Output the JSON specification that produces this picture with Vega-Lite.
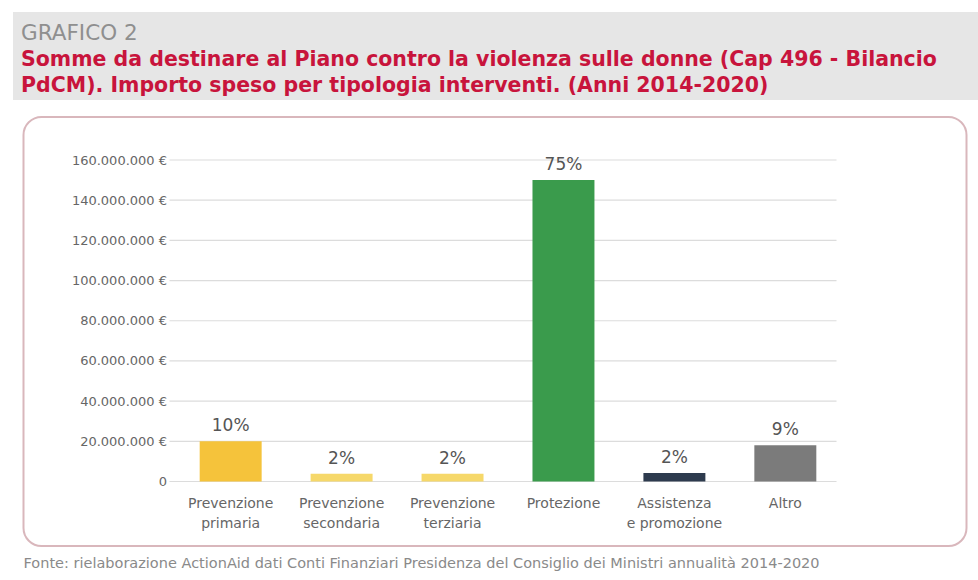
{
  "$schema": "https://vega.github.io/schema/vega-lite/v6.json",
  "background": "white",
  "padding": {"left": 13, "top": 12, "right": 0, "bottom": 0},
  "spacing": 16,
  "center": true,
  "config": {
    "view": {"stroke": null},
    "font": "DejaVu Sans",
    "locale": {"number": {"decimal": ",", "thousands": ".", "grouping": [3], "currency": ["", " €"]}}
  },
  "vconcat": [
    {
      "width": 965,
      "height": 88,
      "view": {"stroke": null},
      "data": {"values": [{}]},
      "mark": {"type": "rect", "color": "#e6e6e6"},
      "encoding": {},
      "title": {
        "text": "GRAFICO 2",
        "subtitle": [
          "Somme da destinare al Piano contro la violenza sulle donne (Cap 496 - Bilancio",
          "PdCM). Importo speso per tipologia interventi. (Anni 2014-2020)"
        ],
        "anchor": "start",
        "frame": "group",
        "dx": 8,
        "offset": -84,
        "font": "DejaVu Sans",
        "fontSize": 21.5,
        "fontWeight": "normal",
        "color": "#8f8f8f",
        "subtitleFont": "DejaVu Sans",
        "subtitleFontSize": 20.5,
        "subtitleFontWeight": "bold",
        "subtitleColor": "#c8143c",
        "subtitleLineHeight": 26,
        "subtitlePadding": 5
      }
    },
    {
      "width": 943,
      "height": 429,
      "view": {"stroke": "#d9b7bc", "strokeWidth": 2, "cornerRadius": 18, "fill": "white"},
      "title": {
        "text": "Fonte: rielaborazione ActionAid dati Conti Finanziari Presidenza del Consiglio dei Ministri annualità 2014-2020",
        "orient": "bottom",
        "anchor": "start",
        "frame": "group",
        "offset": 11,
        "font": "DejaVu Sans",
        "fontSize": 14.5,
        "fontWeight": "normal",
        "color": "#8a8a8a"
      },
      "encoding": {
        "y": {
          "field": "v",
          "type": "quantitative",
          "scale": {"domain": [0, 160000000], "range": [364.5, 43], "nice": false, "zero": true},
          "axis": {
            "orient": "left",
            "offset": -143,
            "values": [0, 20000000, 40000000, 60000000, 80000000, 100000000, 120000000, 140000000, 160000000],
            "format": ",.0f",
            "labelExpr": "datum.value == 0 ? '0' : datum.label + ' €'",
            "grid": false,
            "ticks": false,
            "tickSize": 0,
            "domain": false,
            "labelPadding": 0,
            "labelFont": "DejaVu Sans",
            "labelFontSize": 13,
            "labelColor": "#666666",
            "title": null
          }
        }
      },
      "layer": [
        {
          "data": {"values": [{"v": 0}, {"v": 20000000}, {"v": 40000000}, {"v": 60000000}, {"v": 80000000}, {"v": 100000000}, {"v": 120000000}, {"v": 140000000}, {"v": 160000000}]},
          "mark": {"type": "rule", "color": "#dcdcdc", "strokeWidth": 1.2},
          "encoding": {
            "x": {"datum": 0, "type": "quantitative", "scale": {"domain": [0, 1], "range": [146, 813]}, "axis": null},
            "x2": {"datum": 1}
          }
        },
        {
          "data": {"name": "bars", "values": [
            {"cat": "Prevenzione primaria", "v": 20000000, "pct": "10%"},
            {"cat": "Prevenzione secondaria", "v": 3800000, "pct": "2%"},
            {"cat": "Prevenzione terziaria", "v": 3800000, "pct": "2%"},
            {"cat": "Protezione", "v": 150000000, "pct": "75%"},
            {"cat": "Assistenza e promozione", "v": 4200000, "pct": "2%"},
            {"cat": "Altro", "v": 18000000, "pct": "9%"}
          ]},
          "layer": [
            {
              "mark": {"type": "bar"},
              "encoding": {
                "x": {
                  "field": "cat",
                  "type": "nominal",
                  "sort": null,
                  "scale": {"range": [154, 815], "paddingInner": 0.4414, "paddingOuter": 0.2},
                  "axis": {
                    "orient": "bottom",
                    "offset": -64.5,
                    "labelAngle": 0,
                    "domain": false,
                    "ticks": false,
                    "tickSize": 0,
                    "labelPadding": 15,
                    "labelFont": "DejaVu Sans",
                    "labelFontSize": 14,
                    "labelColor": "#666666",
                    "labelLineHeight": 20,
                    "labelExpr": "datum.value == 'Assistenza e promozione' ? ['Assistenza', 'e promozione'] : split(datum.value, ' ')",
                    "title": null
                  }
                },
                "color": {
                  "field": "cat",
                  "type": "nominal",
                  "sort": null,
                  "scale": {
                    "domain": ["Prevenzione primaria", "Prevenzione secondaria", "Prevenzione terziaria", "Protezione", "Assistenza e promozione", "Altro"],
                    "range": ["#f5c33b", "#f6d86a", "#f6d86a", "#3a9b4c", "#2e3b4e", "#7b7b7b"]
                  },
                  "legend": null
                }
              }
            },
            {
              "mark": {"type": "text", "baseline": "bottom", "dy": -6, "font": "DejaVu Sans", "fontSize": 17, "color": "#555555"},
              "encoding": {
                "x": {"field": "cat", "type": "nominal", "sort": null},
                "text": {"field": "pct"}
              }
            }
          ]
        }
      ],
      "resolve": {"scale": {"x": "independent"}}
    }
  ]
}
